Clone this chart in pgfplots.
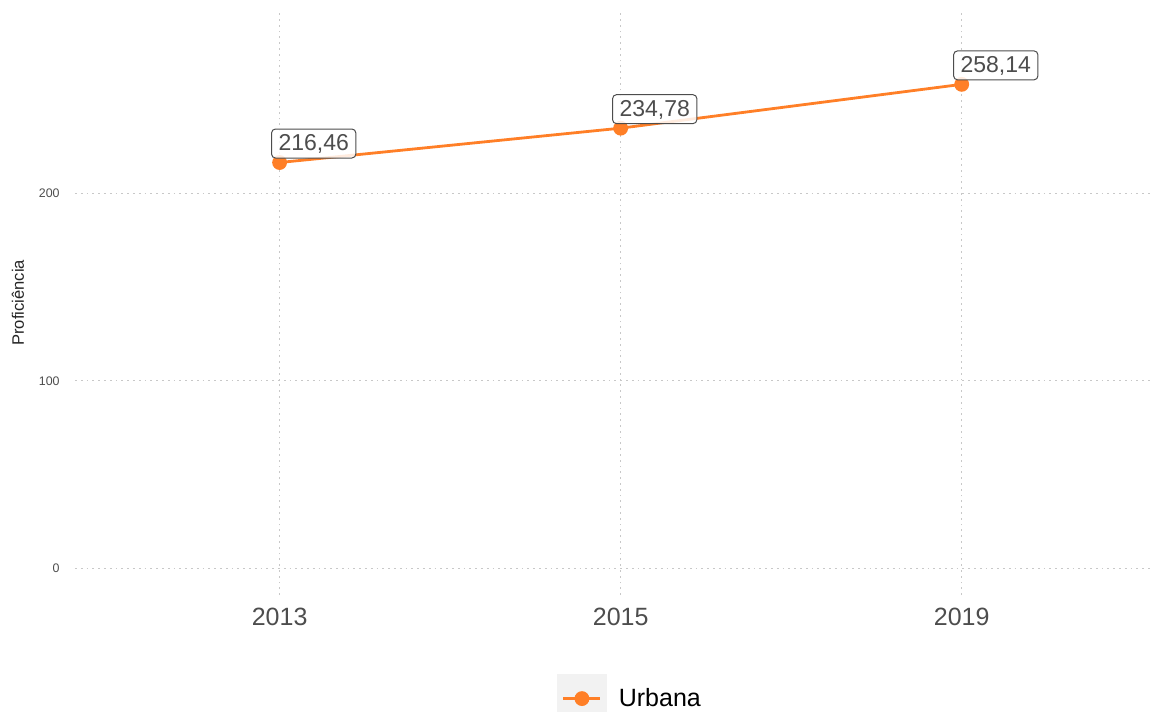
\documentclass[border=0pt]{standalone}
\usepackage{fontspec}
\setmainfont{Liberation Sans}
\usepackage{pgfplots}
\pgfplotsset{compat=1.18}
\usepackage{pgfplotstable}

\definecolor{urb}{HTML}{FF7F27}
\definecolor{txtgray}{HTML}{4D4D4D}
\definecolor{gridgray}{HTML}{C8C8C8}
\definecolor{keybg}{HTML}{F2F2F2}

\pgfplotstableread{
x y lab
1 216.46 216,46
2 234.78 234,78
3 258.14 258,14
}\urbana

\begin{document}
\begin{tikzpicture}
\useasboundingbox (-37.5pt,-58.5pt) rectangle (538.5pt,297.5pt);
\begin{axis}[
    at={(0,0)}, anchor=south west,
    scale only axis,
    width=538.5pt, height=291pt,
    xmin=0.4, xmax=3.558,
    ymin=-14.2, ymax=296.2,
    axis line style={draw=none},
    tick style={draw=none},
    xtick={1,2,3},
    xticklabels={2013,2015,2019},
    ytick={0,100,200},
    grid=major,
    major grid style={gridgray, line width=0.5pt, dash pattern=on 0.9pt off 2pt},
    /pgf/number format/assume math mode=true,
    xticklabel style={font=\fontsize{12.5}{14}\selectfont, text=txtgray, inner sep=0pt, anchor=north, yshift=-6.5pt},
    yticklabel style={font=\fontsize{6.2}{7}\selectfont, text=txtgray, inner sep=0pt, anchor=east, xshift=-7.5pt},
    ylabel={Proficiência},
    ylabel style={font=\fontsize{8.3}{9}\selectfont, text=black!85, at={(axis description cs:-0.0529,0.502)}, anchor=center},
    legend style={at={(axis description cs:0.5162,-0.178)}, anchor=center, draw=none, fill=none,
        font=\fontsize{12.5}{14}\selectfont,
        /tikz/every even column/.append style={column sep=0pt}},
    legend image code/.code={
        \fill[keybg] (0pt,-11.75pt) rectangle (23.5pt,11.75pt);
        \draw[urb, line width=1.4pt] (2.5pt,0pt) -- (21pt,0pt);
        \fill[urb] (11.75pt,0pt) circle (3pt);
        \path (27.5pt,0pt);
    },
]
\addplot[
    urb, line width=1.4pt,
    mark=*, mark size=3pt, mark options={fill=urb, draw=urb},
    point meta=explicit symbolic,
    nodes near coords={\pgfplotspointmeta},
    every node near coord/.style={
        anchor=south west, xshift=-4.3pt, yshift=2pt,
        draw=txtgray, line width=0.5pt, rounded corners=2pt,
        fill=white, fill opacity=0.85, text opacity=1,
        text=txtgray, font=\fontsize{11.5}{12}\selectfont,
        inner xsep=3.5pt, inner ysep=2.5pt, text height=8.2pt, text depth=1.3pt
    },
] table[x=x, y=y, meta=lab] {\urbana};
\addlegendentry{Urbana}
\end{axis}
\end{tikzpicture}
\end{document}
